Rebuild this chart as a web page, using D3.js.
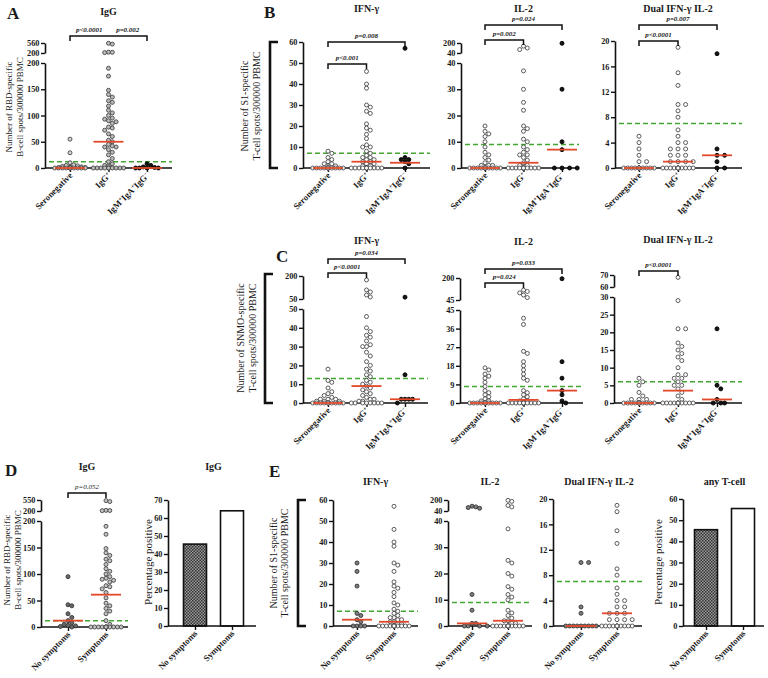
<!DOCTYPE html>
<html><head><meta charset="utf-8">
<script src="https://cdn.jsdelivr.net/npm/d3@7"></script>
<style>
body{margin:0;background:#fff;}
svg text{font-family:"Liberation Serif","Times New Roman",serif;fill:#1a1a1a;}
</style></head><body>
<svg id="chart" width="768" height="678"></svg>
<script>
// ---------------- DATA ----------------
const serologyGroups = ["Seronegative", "IgG^+", "IgM^+IgA^+IgG^\u2212"];
const symptomGroups = ["No symptoms", "Symptoms"];

// Panel A: RBD-specific B cells (IgG)
const aSero = [55, 29, 10, 6, 5, 4, 3, 2, 2, 1, 1, 0,0,0,0,0,0,0,0,0,0,0,0,0];
const aIgG = [550, 520, 230, 225, 215, 190, 175, 148, 140, 135, 128, 125, 118, 110, 105, 100, 95, 93, 90, 88, 85, 78, 76, 72, 65, 60, 53, 50, 45, 42, 40, 40, 35, 30, 25, 18, 12, 8, 5, 3, 0,0,0,0,0,0,0,0,0,0];
const aTriple = [8, 5, 2, 1, 0, 0, 0, 0];
const aMedians = [0, 50, 0];
const aCutoff = 12;
const aTicksLow = [0, 50, 100, 150, 200];
const aTicksHigh = [200, 560];

// Panel B: S1-specific T cells
const bIfnSero = [8,7,5,4,3,2,2,1,1,0,0,0,0,0,0,0,0,0,0,0,0,0,0,0];
const bIfnIgG = [46,40,38,30,29,27,26,21,19,18,16,14,11,10,10,8,7,6,5,5,4,4,3,3,2,2,1,1,0,0,0,0,0,0,0,0,0,0,0,0,0,0];
const bIfnTriple = [57,5,4,4,3,2,0];
const bIfnMedians = [0, 3, 2.5];
const bIfnCutoff = 7;
const bIfnTicks = [0,10,20,30,40,50,60];

const bIl2Sero = [16,14,13,12,10,8,6,5,4,3,2,1,1,1,0,0,0,0,0,0,0,0,0,0,0,0,0,0];
const bIl2IgG = [150,120,95,37,30,25,22,16,15,14,11,10,8,7,6,5,5,4,3,2,1,1,0,0,0,0,0,0,0,0,0,0,0,0,0,0,0];
const bIl2Triple = [195,30,10,7,0,0,0,0];
const bIl2Medians = [0, 2, 7];
const bIl2Cutoff = 9;
const bIl2TicksLow = [0,10,20,30,40];
const bIl2TicksHigh = [40,200];

const bDualSero = [5,4,3,2,1,1,0,0,0,0,0,0,0,0,0,0,0,0,0,0,0,0,0,0];
const bDualIgG = [19,15,13,10,10,9,8,6,5,4,4,3,3,3,2,2,2,1,1,1,1,0,0,0,0,0,0,0,0,0,0,0,0,0,0,0,0];
const bDualTriple = [18,3,2,2,1,0,0];
const bDualMedians = [0, 1, 2];
const bDualCutoff = 7;
const bDualTicks = [0,4,8,12,16,20];

// Panel C: SNMO-specific T cells
const cIfnSero = [18,12,11,8,6,5,4,3,2,2,2,1,1,1,0,0,0,0,0,0,0,0,0,0,0,0];
const cIfnIgG = [174,109,96,76,63,46,40,38,36,35,33,31,30,30,27,25,22,20,18,17,15,14,12,11,10,9,8,7,6,5,4,3,2,2,1,1,0,0,0,0,0,0,0,0];
const cIfnTriple = [62,15,2,2,2,2,0];
const cIfnMedians = [0, 9, 2];
const cIfnCutoff = 13;
const cIfnTicksLow = [0,10,20,30,40,50];
const cIfnTicksHigh = [50,200];

const cIl2Sero = [17,16,14,13,12,10,8,6,5,4,3,2,1,1,0,0,0,0,0,0,0,0,0,0,0,0];
const cIl2IgG = [115,105,95,80,62,41,38,25,24,20,18,16,14,12,11,6,5,4,3,2,1,1,0,0,0,0,0,0,0,0,0,0,0,0,0,0,0];
const cIl2Triple = [195,20,12,6,4,1,0];
const cIl2Medians = [0, 1.5, 6];
const cIl2Cutoff = 8;
const cIl2TicksLow = [0,9,18,27,36,45];
const cIl2TicksHigh = [45,200];

const cDualSero = [7,6,5,3,2,1,1,1,0,0,0,0,0,0,0,0,0,0,0,0,0,0,0];
const cDualIgG = [68,29,21,21,17,16,15,14,13,12,10,8,8,7,7,6,5,5,4,3,2,1,0,0,0,0,0,0,0,0,0,0,0,0];
const cDualTriple = [21,5,4,1,0,0,0];
const cDualMedians = [0, 3.5, 1];
const cDualCutoff = 6;
const cDualTicksLow = [0,5,10,15,20,25,30];
const cDualTicksHigh = [60,70];

// Panel D: symptoms, RBD-specific B cells
const dNo = [95,42,40,25,18,12,8,5,3,2,1,0];
const dSym = [530,500,220,215,210,190,175,148,140,135,128,125,118,110,105,100,95,92,90,88,85,78,76,72,65,55,45,40,35,30,25,12,5,0,0,0,0,0,0,0,0,0,0,0,0];
const dMedians = [12, 61];
const dCutoff = 12;
const dTicksLow = [0,50,100,150,200];
const dTicksHigh = [200,550];
const dPercent = [45.5, 64];
const dPctTicks = [0,10,20,30,40,50,60,70];

// Panel E: symptoms, S1-specific T cells
const eIfnNo = [30,26,19,6,5,3,2,0,0,0,0];
const eIfnSym = [57,46,40,38,30,29,26,21,19,18,16,14,11,10,8,7,6,5,4,4,3,3,2,2,1,1,0,0,0,0,0,0,0,0,0,0,0,0,0,0];
const eIfnMedians = [3, 2];
const eIfnCutoff = 7;
const eIfnTicks = [0,10,20,30,40,50,60];

const eIl2No = [110,100,90,80,12,6,1,1,0,0,0,0];
const eIl2Sym = [195,180,120,100,37,25,24,20,19,15,14,12,11,10,6,5,4,3,2,2,1,1,0,0,0,0,0,0,0,0,0,0,0,0,0,0];
const eIl2Medians = [1, 2];
const eIl2Cutoff = 9;
const eIl2TicksLow = [0,10,20,30,40];
const eIl2TicksHigh = [40,200];

const eDualNo = [10,10,3,2,0,0,0,0,0,0,0,0,0];
const eDualSym = [19,18,15,13,9,8,6,5,4,4,3,3,2,2,2,1,1,1,1,0,0,0,0,0,0,0,0,0,0,0,0];
const eDualMedians = [0, 2];
const eDualCutoff = 7;
const eDualTicks = [0,4,8,12,16,20];

const ePercent = [45.5, 55.5];
const ePctTicks = [0,10,20,30,40,50,60];

// ---------------- DRAWING ----------------
const svg = d3.select("#chart");
const R = 2.0;
const RED = "#e2492a", GREEN = "#43a532";

const defs = svg.append("defs");
const pat = defs.append("pattern").attr("id","hatch").attr("width",3).attr("height",3).attr("patternUnits","userSpaceOnUse");
pat.append("rect").attr("width",3).attr("height",3).attr("fill","#9a9a9a");
pat.append("rect").attr("width",1.5).attr("height",1.5).attr("fill","#333");
pat.append("rect").attr("x",1.5).attr("y",1.5).attr("width",1.5).attr("height",1.5).attr("fill","#333");

function richText(t, str, sup) {
  let raised = false;
  str.split(/(\^.)/).filter(Boolean).forEach(p => {
    if (p[0] === "^") {
      t.append("tspan").attr("dy", raised ? 0 : -3).attr("font-size", sup).text(p[1]);
      raised = true;
    } else {
      t.append("tspan").attr("dy", raised ? 3 : 0).text(p);
      raised = false;
    }
  });
}

function brokenScale(segs) {
  const sc = segs.map(s => d3.scaleLinear().domain(s.domain).range(s.range));
  const f = v => {
    for (let i = 0; i < segs.length; i++) {
      if (i === segs.length - 1 || v <= segs[i].domain[1]) return sc[i](v);
    }
  };
  f.scales = sc;
  return f;
}

function styleAxis(g) {
  g.select(".domain").attr("stroke", "#111").attr("stroke-width", 1.6);
  g.selectAll(".tick line").attr("stroke", "#111").attr("stroke-width", 1.4);
  g.selectAll(".tick text").attr("font-size", 8.3).attr("font-weight", "bold")
    .attr("font-family", "'Liberation Serif',serif").attr("fill", "#1a1a1a");
}

function swarm(values, y, cx, maxW) {
  const pts = values.map(v => ({ v, y: y(v) })).sort((a, b) => a.y - b.y);
  const placed = [];
  const step = 2 * R * 0.95;
  const nSteps = Math.floor(maxW / step);
  pts.forEach(p => {
    let bestX = cx, bestD = -1;
    for (let k = 0; k <= nSteps * 2; k++) {
      const off = (k % 2 === 1 ? 1 : -1) * Math.ceil(k / 2) * step;
      const x = cx + off;
      let minD = Infinity;
      placed.forEach(q => { const d = Math.hypot(q.x - x, q.y - p.y); if (d < minD) minD = d; });
      if (minD >= 2 * R * 0.95) { bestX = x; break; }
      if (minD > bestD) { bestD = minD; bestX = x; }
    }
    placed.push({ x: bestX, y: p.y, v: p.v });
  });
  return placed;
}

function xAxisLabels(g, x, cats, y0) {
  cats.forEach(c => {
    const t = g.append("text")
      .attr("transform", `translate(${x(c) + 3},${y0 + 8}) rotate(-45)`)
      .attr("text-anchor", "end").attr("font-size", 8.8).attr("font-weight", "bold");
    richText(t, c, 6);
  });
}

function drawBrackets(g, x, cats, brackets) {
  brackets.forEach(b => {
    const x1 = x(cats[b.from]), x2 = x(cats[b.to]);
    g.append("path").attr("d", `M${x1},${b.y + 5}V${b.y}H${x2}V${b.y + 5}`)
      .attr("fill", "none").attr("stroke", "#111").attr("stroke-width", 1.5);
    b.labels.forEach(l => {
      const lx = (x(cats[l.between[0]]) + x(cats[l.between[1]])) / 2;
      g.append("text").attr("x", lx).attr("y", b.y - 4).attr("text-anchor", "middle")
        .attr("font-size", 7).attr("font-style", "italic")
        .attr("font-weight", b.bold === false ? "normal" : "bold")
        .attr("fill", b.bold === false ? "#555" : "#1a1a1a").text(l.text);
    });
  });
}

function drawScatter(cfg) {
  const g = svg.append("g");
  const x = d3.scalePoint().domain(cfg.cats).range(cfg.catRange);
  const y = brokenScale(cfg.segs);
  cfg.segs.forEach((s, i) => {
    const ax = g.append("g").attr("transform", `translate(${cfg.axisX},0)`)
      .call(d3.axisLeft(y.scales[i]).tickValues(s.ticks).tickSize(4).tickPadding(1.5).tickSizeOuter(0).tickFormat(d3.format("d")));
    styleAxis(ax);
  });
  const xa = g.append("g").attr("transform", `translate(0,${cfg.y0})`)
    .call(d3.axisBottom(x).tickSize(4).tickFormat(""));
  xa.select(".domain").attr("d", `M${cfg.axisX},0H${cfg.xEnd}`).attr("stroke", "#111").attr("stroke-width", 1.6);
  xa.selectAll(".tick line").attr("stroke", "#111").attr("stroke-width", 1.4);
  xAxisLabels(g, x, cfg.cats, cfg.y0);
  g.append("line").attr("x1", cfg.axisX + 4).attr("x2", cfg.xEnd)
    .attr("y1", y(cfg.cutoff)).attr("y2", y(cfg.cutoff))
    .attr("stroke", GREEN).attr("stroke-width", 1.5).attr("stroke-dasharray", "5,3");
  cfg.groups.forEach((vals, gi) => {
    const pts = swarm(vals, y, x(cfg.cats[gi]), cfg.maxW || 17);
    const st = cfg.styles[gi];
    g.append("g").selectAll("circle").data(pts).join("circle")
      .attr("cx", d => d.x).attr("cy", d => d.y).attr("r", R)
      .attr("fill", st.fill).attr("stroke", st.stroke).attr("stroke-width", 0.9);
  });
  cfg.medians.forEach((m, gi) => {
    const cx = x(cfg.cats[gi]);
    g.append("line").attr("x1", cx - 15).attr("x2", cx + 15).attr("y1", y(m)).attr("y2", y(m))
      .attr("stroke", RED).attr("stroke-width", 1.8);
  });
  g.append("text").attr("x", (cfg.catRange[0] + cfg.catRange[1]) / 2).attr("y", cfg.titleY)
    .attr("text-anchor", "middle").attr("font-size", 10).attr("font-weight", "bold").text(cfg.title);
  drawBrackets(g, x, cfg.cats, cfg.brackets || []);
}

function drawBars(cfg) {
  const g = svg.append("g");
  const x = d3.scalePoint().domain(cfg.cats).range(cfg.catRange);
  const y = d3.scaleLinear().domain(cfg.domain).range([cfg.y0, cfg.yTop]);
  const ax = g.append("g").attr("transform", `translate(${cfg.axisX},0)`)
    .call(d3.axisLeft(y).tickValues(cfg.ticks).tickSize(4).tickPadding(1.5).tickSizeOuter(0));
  styleAxis(ax);
  const bw = 23;
  g.selectAll("rect.bar").data(cfg.values).join("rect").attr("class", "bar")
    .attr("x", (d, i) => x(cfg.cats[i]) - bw / 2).attr("width", bw)
    .attr("y", d => y(d)).attr("height", d => cfg.y0 - y(d))
    .attr("fill", (d, i) => i === 0 ? "url(#hatch)" : "#fff")
    .attr("stroke", "#111").attr("stroke-width", 1.6);
  const xa = g.append("g").attr("transform", `translate(0,${cfg.y0})`)
    .call(d3.axisBottom(x).tickSize(4).tickFormat(""));
  xa.select(".domain").attr("d", `M${cfg.axisX},0H${cfg.xEnd}`).attr("stroke", "#111").attr("stroke-width", 1.6);
  xa.selectAll(".tick line").attr("stroke", "#111").attr("stroke-width", 1.4);
  xAxisLabels(g, x, cfg.cats, cfg.y0);
  g.append("text").attr("x", (cfg.catRange[0] + cfg.catRange[1]) / 2).attr("y", cfg.titleY)
    .attr("text-anchor", "middle").attr("font-size", 10).attr("font-weight", "bold").text(cfg.title);
  g.append("text").attr("transform", `translate(${cfg.labelX},${cfg.labelY}) rotate(-90)`)
    .attr("text-anchor", "middle").attr("font-size", 11).text("Percentage positive");
}

function yLabel(lines, xs, cy, size, bracket) {
  lines.forEach((l, i) => {
    svg.append("text").attr("transform", `translate(${xs[i]},${cy}) rotate(-90)`)
      .attr("text-anchor", "middle").attr("font-size", size).text(l);
  });
  if (bracket) {
    svg.append("path").attr("d", `M${bracket.x + 8},${bracket.y1}H${bracket.x}V${bracket.y2}H${bracket.x + 8}`)
      .attr("fill", "none").attr("stroke", "#111").attr("stroke-width", 2.6);
  }
}

function panelLetter(l, x, y) {
  svg.append("text").attr("x", x).attr("y", y).attr("font-size", 17).attr("font-weight", "bold")
    .attr("font-family", "'Liberation Sans',Arial,sans-serif").text(l);
}

const stOpen = { fill: "#fff", stroke: "#4a4a4a" };
const stTriple = { fill: "#151515", stroke: "#000" };

// ---- Panel A ----
panelLetter("A", 7, 19);
yLabel(["Number of RBD-specific", "B-cell spots/300000 PBMC"], [12, 23], 107, 9);
drawScatter({
  axisX: 45, y0: 168, xEnd: 172, cats: serologyGroups, catRange: [70, 147],
  segs: [{ domain: [0, 200], range: [168, 63], ticks: aTicksLow }, { domain: [200, 560], range: [53, 43], ticks: aTicksHigh }],
  groups: [aSero, aIgG, aTriple],
  styles: [{ fill: "#d4d4d4", stroke: "#444" }, { fill: "#bcbcbc", stroke: "#444" }, stTriple],
  medians: aMedians, cutoff: aCutoff, title: "IgG", titleY: 15,
  brackets: [{ from: 0, to: 2, y: 36, labels: [{ text: "p<0.0001", between: [0, 1] }, { text: "p=0.002", between: [1, 2] }] }]
});

// ---- Panel B ----
panelLetter("B", 264, 18);
yLabel(["Number of S1-specific", "T-cell spots/300000 PBMC"], [248, 260], 106, 10, { x: 270, y1: 42, y2: 168 });
drawScatter({
  axisX: 303, y0: 168, xEnd: 430, cats: serologyGroups, catRange: [328, 405],
  segs: [{ domain: [0, 60], range: [168, 42], ticks: bIfnTicks }],
  groups: [bIfnSero, bIfnIgG, bIfnTriple], styles: [stOpen, stOpen, stTriple],
  medians: bIfnMedians, cutoff: bIfnCutoff, title: "IFN-\u03b3", titleY: 12,
  brackets: [{ from: 0, to: 1, y: 64, labels: [{ text: "p<0.001", between: [0, 1] }] },
             { from: 0, to: 2, y: 42, labels: [{ text: "p=0.008", between: [0, 2] }] }]
});
drawScatter({
  axisX: 461, y0: 168, xEnd: 579, cats: serologyGroups, catRange: [485, 562],
  segs: [{ domain: [0, 40], range: [168, 63], ticks: bIl2TicksLow }, { domain: [40, 200], range: [53, 43], ticks: bIl2TicksHigh }],
  groups: [bIl2Sero, bIl2IgG, bIl2Triple], styles: [stOpen, stOpen, stTriple],
  medians: bIl2Medians, cutoff: bIl2Cutoff, title: "IL-2", titleY: 12,
  brackets: [{ from: 0, to: 1, y: 40, labels: [{ text: "p=0.002", between: [0, 1] }] },
             { from: 0, to: 2, y: 25, labels: [{ text: "p=0.024", between: [0, 2] }] }]
});
drawScatter({
  axisX: 615, y0: 168, xEnd: 742, cats: serologyGroups, catRange: [639, 717],
  segs: [{ domain: [0, 20], range: [168, 41], ticks: bDualTicks }],
  groups: [bDualSero, bDualIgG, bDualTriple], styles: [stOpen, stOpen, stTriple],
  medians: bDualMedians, cutoff: bDualCutoff, title: "Dual IFN-\u03b3 IL-2", titleY: 12,
  brackets: [{ from: 0, to: 1, y: 41, labels: [{ text: "p<0.0001", between: [0, 1] }] },
             { from: 0, to: 2, y: 25, labels: [{ text: "p=0.007", between: [0, 2] }] }]
});

// ---- Panel C ----
panelLetter("C", 276, 262);
yLabel(["Number of SNMO-specific", "T-cell spots/300000 PBMC"], [244, 256], 338, 10, { x: 265, y1: 274, y2: 403 });
drawScatter({
  axisX: 303, y0: 403, xEnd: 428, cats: serologyGroups, catRange: [328, 405],
  segs: [{ domain: [0, 50], range: [403, 309], ticks: cIfnTicksLow }, { domain: [50, 200], range: [299, 276], ticks: cIfnTicksHigh }],
  groups: [cIfnSero, cIfnIgG, cIfnTriple], styles: [stOpen, stOpen, stTriple],
  medians: cIfnMedians, cutoff: cIfnCutoff, title: "IFN-\u03b3", titleY: 244,
  brackets: [{ from: 0, to: 1, y: 273, labels: [{ text: "p<0.0001", between: [0, 1] }] },
             { from: 0, to: 2, y: 259, labels: [{ text: "p=0.034", between: [0, 2] }] }]
});
drawScatter({
  axisX: 460, y0: 403, xEnd: 583, cats: serologyGroups, catRange: [485, 562],
  segs: [{ domain: [0, 45], range: [403, 310], ticks: cIl2TicksLow }, { domain: [45, 200], range: [300, 278], ticks: cIl2TicksHigh }],
  groups: [cIl2Sero, cIl2IgG, cIl2Triple], styles: [stOpen, stOpen, stTriple],
  medians: cIl2Medians, cutoff: cIl2Cutoff, title: "IL-2", titleY: 245,
  brackets: [{ from: 0, to: 1, y: 283, labels: [{ text: "p=0.024", between: [0, 1] }] },
             { from: 0, to: 2, y: 269, labels: [{ text: "p=0.033", between: [0, 2] }] }]
});
drawScatter({
  axisX: 614, y0: 403, xEnd: 742, cats: serologyGroups, catRange: [639, 717],
  segs: [{ domain: [0, 30], range: [403, 297], ticks: cDualTicksLow }, { domain: [60, 70], range: [287, 275], ticks: cDualTicksHigh }],
  groups: [cDualSero, cDualIgG, cDualTriple], styles: [stOpen, stOpen, stTriple],
  medians: cDualMedians, cutoff: cDualCutoff, title: "Dual IFN-\u03b3 IL-2", titleY: 243,
  brackets: [{ from: 0, to: 1, y: 271, labels: [{ text: "p<0.0001", between: [0, 1] }] }]
});

// ---- Panel D ----
panelLetter("D", 5, 476);
yLabel(["Number of RBD-specific", "B-cell spots/300000 PBMC"], [10, 21], 560, 9);
drawScatter({
  axisX: 41, y0: 627, xEnd: 128, cats: symptomGroups, catRange: [68, 106],
  segs: [{ domain: [0, 200], range: [627, 521], ticks: dTicksLow }, { domain: [200, 550], range: [511, 500], ticks: dTicksHigh }],
  groups: [dNo, dSym], styles: [{ fill: "#6a6a6a", stroke: "#333" }, { fill: "#c4c4c4", stroke: "#444" }],
  medians: dMedians, cutoff: dCutoff, title: "IgG", titleY: 470,
  brackets: [{ from: 0, to: 1, y: 493, bold: false, labels: [{ text: "p=0.052", between: [0, 1] }] }]
});
drawBars({
  axisX: 168, y0: 626, yTop: 500, xEnd: 256, domain: [0, 70], ticks: dPctTicks,
  cats: symptomGroups, catRange: [195, 232], values: dPercent, title: "IgG", titleY: 470,
  labelX: 152, labelY: 562
});

// ---- Panel E ----
panelLetter("E", 269, 477);
yLabel(["Number of S1-specific", "T-cell spots/300000 PBMC"], [277, 288], 563, 10, { x: 298, y1: 500, y2: 626 });
const stNo = { fill: "#7d7d7d", stroke: "#333" };
drawScatter({
  axisX: 333, y0: 626, xEnd: 418, cats: symptomGroups, catRange: [357, 394],
  segs: [{ domain: [0, 60], range: [626, 500], ticks: eIfnTicks }],
  groups: [eIfnNo, eIfnSym], styles: [stNo, stOpen],
  medians: eIfnMedians, cutoff: eIfnCutoff, title: "IFN-\u03b3", titleY: 485
});
drawScatter({
  axisX: 448, y0: 626, xEnd: 532, cats: symptomGroups, catRange: [472, 508],
  segs: [{ domain: [0, 40], range: [626, 521], ticks: eIl2TicksLow }, { domain: [40, 200], range: [511, 500], ticks: eIl2TicksHigh }],
  groups: [eIl2No, eIl2Sym], styles: [stNo, stOpen],
  medians: eIl2Medians, cutoff: eIl2Cutoff, title: "IL-2", titleY: 485
});
drawScatter({
  axisX: 553, y0: 626, xEnd: 642, cats: symptomGroups, catRange: [581, 617],
  segs: [{ domain: [0, 20], range: [626, 499], ticks: eDualTicks }],
  groups: [eDualNo, eDualSym], styles: [stNo, stOpen],
  medians: eDualMedians, cutoff: eDualCutoff, title: "Dual IFN-\u03b3 IL-2", titleY: 485
});
drawBars({
  axisX: 683, y0: 626, yTop: 499, xEnd: 764, domain: [0, 60], ticks: ePctTicks,
  cats: symptomGroups, catRange: [706, 743], values: ePercent, title: "any T-cell", titleY: 485,
  labelX: 662, labelY: 562
});
</script>
</body></html>
